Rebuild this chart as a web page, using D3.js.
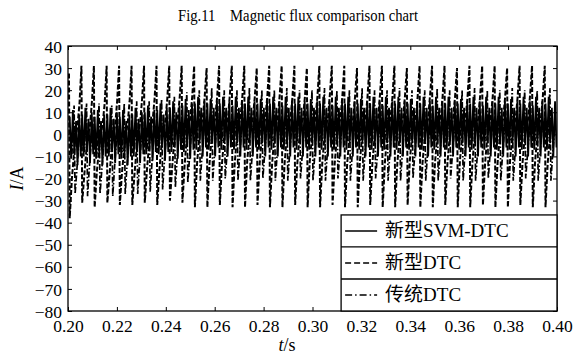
<!DOCTYPE html>
<html>
<head>
<meta charset="utf-8">
<script src="https://cdn.jsdelivr.net/npm/d3@7"></script>
<style>
  body { margin: 0; background: #fff; }
  text { font-family: "Liberation Serif", "Noto Sans CJK SC", serif; fill: #000; }
</style>
</head>
<body>
<svg id="chart" width="575" height="358"></svg>
<script>
// tick labels
const xTicks = [0.20, 0.22, 0.24, 0.26, 0.28, 0.30, 0.32, 0.34, 0.36, 0.38, 0.40];
const yTicks = [40, 30, 20, 10, 0, -10, -20, -30, -40, -50, -60, -70, -80];

// start time of each current cycle (big spike positions)
const cycleTimes = [
  0.2004, 0.2055, 0.2106, 0.2158, 0.2209, 0.2260, 0.2311, 0.2362, 0.2414, 0.2465,
  0.2516, 0.2567, 0.2618, 0.2670, 0.2721, 0.2772, 0.2823, 0.2874, 0.2926, 0.2977,
  0.3028, 0.3079, 0.3130, 0.3182, 0.3233, 0.3284, 0.3335, 0.3386, 0.3438, 0.3489,
  0.3540, 0.3591, 0.3642, 0.3694, 0.3745, 0.3796, 0.3847, 0.3898, 0.3950
];

// 新型SVM-DTC (solid): sample offsets inside a cycle and values per cycle
const solidOff = [0.0003, 0.0009, 0.0016, 0.0022, 0.0029, 0.0035, 0.0042, 0.0048];
const solidRows = [
  [8, -11, 11, -9, 6, -14, 9, -10], [9, -10, 12, -8, 7, -13, 10, -9],
  [8, -11, 11, -9, 6, -14, 9, -10], [9, -10, 12, -8, 7, -13, 10, -9],
  [8, -11, 11, -9, 6, -14, 9, -10], [9, -10, 12, -8, 7, -13, 10, -9],
  [10, -9, 13, -7, 8, -12, 11, -8], [11, -9, 14, -6, 9, -12, 12, -8],
  [12, -8, 15, -5, 10, -11, 13, -7], [13, -8, 16, -5, 11, -11, 14, -7],
  [14, -7, 17, -4, 12, -10, 15, -6], [14, -7, 16, -4, 12, -10, 15, -6],
  [14, -7, 17, -4, 12, -10, 15, -6], [13, -7, 17, -4, 12, -10, 15, -6],
  [14, -7, 17, -4, 12, -10, 15, -6], [14, -7, 16, -4, 12, -10, 15, -6],
  [14, -7, 17, -4, 12, -10, 15, -6], [13, -7, 17, -4, 12, -10, 15, -6],
  [14, -7, 17, -4, 12, -10, 15, -6], [14, -7, 16, -4, 12, -10, 15, -6],
  [14, -7, 17, -4, 12, -10, 15, -6], [13, -7, 17, -4, 12, -10, 15, -6],
  [14, -7, 17, -4, 12, -10, 15, -6], [14, -7, 16, -4, 12, -10, 15, -6],
  [14, -7, 17, -4, 12, -10, 15, -6], [13, -7, 17, -4, 12, -10, 15, -6],
  [14, -7, 17, -4, 12, -10, 15, -6], [14, -7, 16, -4, 12, -10, 15, -6],
  [14, -7, 17, -4, 12, -10, 15, -6], [13, -7, 17, -4, 12, -10, 15, -6],
  [14, -7, 17, -4, 12, -10, 15, -6], [14, -7, 16, -4, 12, -10, 15, -6],
  [14, -7, 17, -4, 12, -10, 15, -6], [13, -7, 17, -4, 12, -10, 15, -6],
  [14, -7, 17, -4, 12, -10, 15, -6], [14, -7, 16, -4, 12, -10, 15, -6],
  [14, -7, 17, -4, 12, -10, 15, -6], [13, -7, 17, -4, 12, -10, 15, -6],
  [14, -7, 17, -4, 12, -10, 15, -6]
];

// 新型DTC (dashed)
const dashOff = [-0.0016, -0.0008, 0, 0.0003, 0.0012, 0.0024];
const dashRows = [
  [0, 10, 28, -38, -20, -4], [4, 14, 31, -31, -18, -2], [4, 15, 31, -33, -17, -3],
  [5, 14, 31, -31, -18, -2], [4, 15, 31, -32, -17, -3], [5, 15, 31, -32, -18, -2],
  [5, 16, 31, -31, -16, 0], [6, 16, 31, -32, -16, 0], [6, 16, 31, -30, -15, 2],
  [7, 17, 31, -31, -14, 3], [7, 17, 31, -33, -13, 3], [7, 17, 30, -33, -13, 3],
  [7, 17, 31, -32, -13, 3], [7, 18, 31, -33, -13, 3], [7, 17, 31, -33, -12, 3],
  [7, 17, 30, -32, -13, 3], [7, 17, 31, -33, -13, 3], [7, 18, 31, -33, -13, 3],
  [7, 17, 31, -32, -13, 3], [7, 17, 30, -33, -12, 3], [7, 17, 31, -33, -13, 3],
  [7, 18, 31, -32, -13, 3], [7, 17, 31, -33, -13, 3], [7, 17, 30, -33, -12, 3],
  [7, 17, 31, -32, -13, 3], [7, 18, 31, -33, -13, 3], [7, 17, 31, -33, -13, 3],
  [7, 17, 30, -32, -12, 3], [7, 17, 31, -33, -13, 3], [7, 18, 31, -33, -13, 3],
  [7, 17, 31, -32, -13, 3], [7, 17, 30, -33, -12, 3], [7, 17, 31, -33, -13, 3],
  [7, 18, 31, -32, -13, 3], [7, 17, 31, -33, -13, 3], [7, 17, 30, -33, -12, 3],
  [7, 17, 31, -32, -13, 3], [7, 18, 31, -33, -13, 3], [7, 17, 31, -33, -13, 3]
];

// 传统DTC (dash-dot)
const dotOff = [0.0012, 0.0021, 0.0025, 0.0033, 0.0043];
const dotRows = [
  [-9, 13, -27, -15, 1], [-8, 14, -28, -14, 2], [-9, 14, -27, -15, 1],
  [-8, 13, -28, -14, 2], [-8, 14, -27, -13, 2], [-7, 15, -27, -13, 3],
  [-7, 15, -26, -12, 3], [-6, 16, -25, -11, 4], [-5, 17, -24, -10, 5],
  [-4, 19, -22, -9, 6], [-3, 20, -21, -8, 6], [-3, 21, -21, -8, 6],
  [-3, 20, -20, -8, 6], [-3, 20, -21, -8, 6], [-3, 21, -21, -8, 6],
  [-3, 20, -20, -8, 6], [-3, 20, -21, -8, 6], [-3, 21, -21, -8, 6],
  [-3, 20, -20, -8, 6], [-3, 20, -21, -8, 6], [-3, 21, -21, -8, 6],
  [-3, 20, -20, -8, 6], [-3, 20, -21, -8, 6], [-3, 21, -21, -8, 6],
  [-3, 20, -20, -8, 6], [-3, 20, -21, -8, 6], [-3, 21, -21, -8, 6],
  [-3, 20, -20, -8, 6], [-3, 20, -21, -8, 6], [-3, 21, -21, -8, 6],
  [-3, 20, -20, -8, 6], [-3, 20, -21, -8, 6], [-3, 21, -21, -8, 6],
  [-3, 20, -20, -8, 6], [-3, 20, -21, -8, 6], [-3, 21, -21, -8, 6],
  [-3, 20, -20, -8, 6], [-3, 20, -21, -8, 6], [-3, 21, -21, -8, 6]
];

const legendLabels = ['新型SVM-DTC', '新型DTC', '传统DTC'];

(function () {
  const svg = d3.select('#chart');
  const margin = { top: 46, right: 18, bottom: 47, left: 68 };
  const width = 575 - margin.left - margin.right;
  const height = 358 - margin.top - margin.bottom;

  const x = d3.scaleLinear().domain([0.2, 0.4]).range([0, width]);
  const y = d3.scaleLinear().domain([-80, 40]).range([height, 0]);

  const g = svg.append('g').attr('transform', `translate(${margin.left},${margin.top})`);

  g.append('clipPath').attr('id', 'clip')
    .append('rect').attr('width', width).attr('height', height);

  const build = (offs, rows) =>
    cycleTimes.flatMap((t, k) => offs.map((o, j) => [t + o, rows[k][j]]));

  const series = [
    { pts: build(dotOff, dotRows), dash: '6,2,1.5,2', w: 1.7 },
    { pts: build(dashOff, dashRows), dash: '5,2', w: 2 },
    { pts: build(solidOff, solidRows), dash: null, w: 1.8 }
  ];

  const line = d3.line().x(d => x(d[0])).y(d => y(d[1]));

  g.append('g').attr('clip-path', 'url(#clip)')
    .selectAll('path')
    .data(series)
    .enter()
    .append('path')
    .attr('d', d => line(d.pts))
    .attr('fill', 'none')
    .attr('stroke', '#000')
    .attr('stroke-width', d => d.w)
    .attr('stroke-dasharray', d => d.dash);

  // axes with inward ticks, labels drawn by the bottom/left axes
  const fmtY = d => (d < 0 ? '\u2212' + Math.abs(d) : d);
  const ax = g.append('g').attr('transform', `translate(0,${height})`)
    .call(d3.axisBottom(x).tickValues(xTicks).tickFormat(d3.format('.2f')).tickSizeInner(-4).tickSizeOuter(0).tickPadding(9));
  const ay = g.append('g')
    .call(d3.axisLeft(y).tickValues(yTicks).tickFormat(fmtY).tickSizeInner(-4).tickSizeOuter(0).tickPadding(6));
  g.append('g')
    .call(d3.axisTop(x).tickValues(xTicks).tickFormat('').tickSizeInner(-4).tickSizeOuter(0));
  g.append('g').attr('transform', `translate(${width},0)`)
    .call(d3.axisRight(y).tickValues(yTicks).tickFormat('').tickSizeInner(-4).tickSizeOuter(0));
  g.selectAll('.domain').remove();
  g.selectAll('.tick line').attr('stroke', '#000');
  ax.selectAll('text').attr('font-size', 17.5).attr('font-family', 'Liberation Serif');
  ay.selectAll('text').attr('font-size', 17.5).attr('font-family', 'Liberation Serif').attr('dy', '0.35em');

  g.append('rect').attr('width', width).attr('height', height)
    .attr('fill', 'none').attr('stroke', '#000').attr('stroke-width', 1.3);

  // legend
  const lg = g.append('g').attr('transform', `translate(${x(0.3117)},${y(-36.5)})`);
  const lw = width - x(0.3117);
  const rowH = (height - y(-36.5)) / 3;
  const dashes = [null, '6,3', '7,3,1.5,3'];
  lg.append('rect').attr('width', lw).attr('height', rowH * 3)
    .attr('fill', '#fff').attr('stroke', '#000').attr('stroke-width', 1.3);
  legendLabels.forEach((lab, i) => {
    if (i > 0) {
      lg.append('line').attr('x1', 0).attr('x2', lw).attr('y1', rowH * i).attr('y2', rowH * i)
        .attr('stroke', '#000').attr('stroke-width', 1.3);
    }
    lg.append('line').attr('x1', 4).attr('x2', 36)
      .attr('y1', rowH * i + rowH / 2).attr('y2', rowH * i + rowH / 2)
      .attr('stroke', '#000').attr('stroke-width', 1.4).attr('stroke-dasharray', dashes[i]);
    lg.append('text').attr('x', 44).attr('y', rowH * i + rowH / 2 + 6.5)
      .attr('font-size', 19).text(lab);
  });

  // titles
  svg.append('text').attr('x', 178).attr('y', 21)
    .attr('font-size', 17).attr('textLength', 240).attr('lengthAdjust', 'spacingAndGlyphs')
    .attr('xml:space', 'preserve').text('Fig.11    Magnetic flux comparison chart');

  const xt = svg.append('text').attr('x', 287).attr('y', 351)
    .attr('text-anchor', 'middle').attr('font-size', 18);
  xt.append('tspan').attr('font-style', 'italic').text('t');
  xt.append('tspan').text('/s');

  const yt = svg.append('text')
    .attr('transform', `translate(23,${margin.top + height / 2}) rotate(-90)`)
    .attr('text-anchor', 'middle').attr('font-size', 18);
  yt.append('tspan').attr('font-style', 'italic').text('I');
  yt.append('tspan').text('/A');
})();
</script>
</body>
</html>
